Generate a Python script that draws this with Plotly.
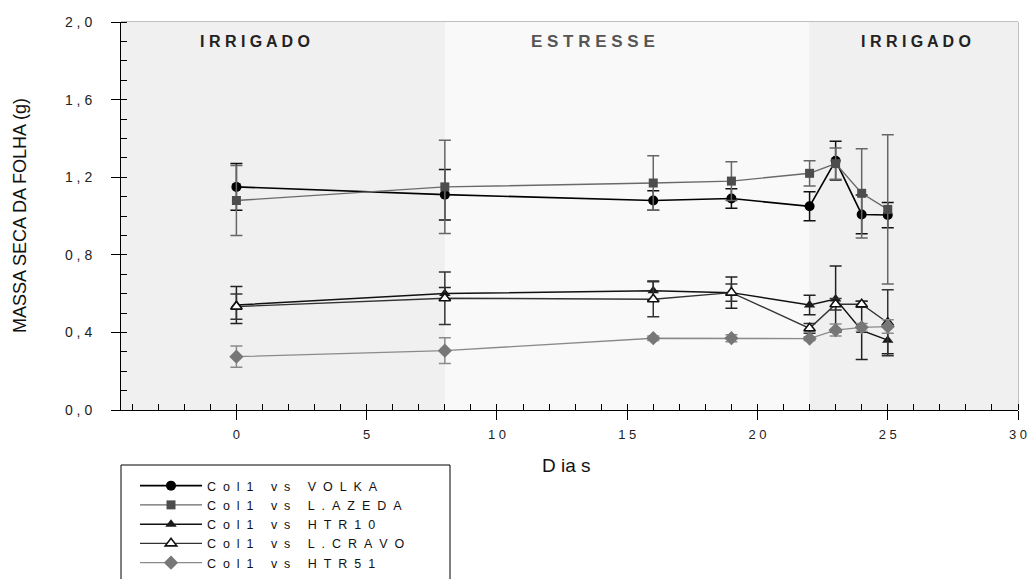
import plotly.graph_objects as go

# ---- data ----
days = [0, 8, 16, 19, 22, 23, 24, 25]

volka = [1.15, 1.11, 1.08, 1.09, 1.05, 1.285, 1.008, 1.005]
volka_err = [0.12, 0.13, 0.05, 0.05, 0.075, 0.10, 0.10, 0.065]

azeda = [1.08, 1.15, 1.17, 1.18, 1.22, 1.27, 1.117, 1.034]
azeda_err = [0.18, 0.24, 0.14, 0.10, 0.065, 0.08, 0.23, 0.385]

htr10 = [0.541, 0.60, 0.615, 0.605, 0.541, 0.572, 0.41, 0.36]
htr10_err = [0.095, 0.032, 0.05, 0.08, 0.05, 0.17, 0.15, 0.07]

cravo = [0.533, 0.576, 0.571, 0.605, 0.421, 0.545, 0.545, 0.45]
cravo_err = [0.065, 0.135, 0.09, 0.045, 0.025, 0.03, 0.015, 0.17]

htr51 = [0.275, 0.306, 0.37, 0.37, 0.368, 0.412, 0.426, 0.43]
htr51_err = [0.055, 0.066, 0.012, 0.018, 0.01, 0.031, 0.02, 0.035]

NB = "\u00a0"
def spaced(word_list):
    return (NB * 5).join((NB * 2).join(w) for w in word_list)

series_names = [
    spaced(["Col1", "vs", "VOLKA"]),
    spaced(["Col1", "vs", "L.AZEDA"]),
    spaced(["Col1", "vs", "HTR10"]),
    spaced(["Col1", "vs", "L.CRAVO"]),
    spaced(["Col1", "vs", "HTR51"]),
]

x_tickvals = [0, 5, 10, 15, 20, 25, 30]
x_ticktext = ["0", "5", "1 0", "1 5", "2 0", "2 5", "3 0"]
y_tickvals = [0.0, 0.4, 0.8, 1.2, 1.6, 2.0]
y_ticktext = ["0 , 0", "0 , 4", "0 , 8", "1 , 2", "1 , 6", "2 , 0"]

phases = [(-4.43, 8, "#f0f0f0"), (8, 22, "#f9f9f9"), (22, 30, "#f0f0f0")]
phase_labels = [(0.73, "I R R I G A D O", "#222222", 16),
                (13.7, "E S T R E S S E", "#555555", 17),
                (26.1, "I R R I G A D O", "#222222", 16)]

FONT = "Liberation Sans, Arial, sans-serif"

L, R, T, B = 121, 1018, 22, 410
W, H = 1029, 579


def px(x):
    return (x - L) / float(R - L)


def py(y):
    return (B - y) / float(B - T)


styles = [
    dict(line=dict(color="#000000", width=1.6),
         marker=dict(symbol="circle", size=10, color="#000000"),
         err="#111111"),
    dict(line=dict(color="#6a6a6a", width=1.4),
         marker=dict(symbol="square", size=9, color="#4d4d4d"),
         err="#666666"),
    dict(line=dict(color="#111111", width=1.5),
         marker=dict(symbol="triangle-up", size=10, color="#1a1a1a"),
         err="#222222"),
    dict(line=dict(color="#333333", width=1.4),
         marker=dict(symbol="triangle-up", size=10, color="#ffffff",
                     line=dict(color="#111111", width=1.6)),
         err="#333333"),
    dict(line=dict(color="#8a8a8a", width=1.4),
         marker=dict(symbol="diamond", size=11, color="#777777"),
         err="#8a8a8a"),
]

values = [volka, azeda, htr10, cravo, htr51]
errors = [volka_err, azeda_err, htr10_err, cravo_err, htr51_err]

fig = go.Figure()
for name, vals, errs, st in zip(series_names, values, errors, styles):
    fig.add_trace(go.Scatter(
        x=days, y=vals, name=name, mode="lines+markers",
        line=st["line"], marker=st["marker"],
        error_y=dict(type="data", array=errs, visible=True,
                     color=st["err"], thickness=1.5, width=6),
    ))

shapes = []
for x0, x1, c in phases:
    shapes.append(dict(type="rect", xref="x", yref="y", x0=x0, x1=x1,
                       y0=0, y1=2.0, fillcolor=c, line=dict(width=0),
                       layer="below"))
shapes.append(dict(type="rect", xref="paper", yref="paper", x0=0, x1=1,
                   y0=0, y1=1, line=dict(color="#808080", width=1),
                   layer="below"))
shapes.append(dict(type="rect", xref="paper", yref="paper",
                   x0=px(121), x1=px(450), y0=py(465), y1=py(650),
                   line=dict(color="#000000", width=1)))

annotations = []
for xc, txt, col, fs in phase_labels:
    annotations.append(dict(x=xc, y=1.902, xref="x", yref="y", text="<b>" + txt + "</b>",
                            xanchor="center", yanchor="middle",
                            showarrow=False, font=dict(family=FONT, size=fs, color=col)))
annotations.append(dict(x=px(20), y=py(216), xref="paper", yref="paper",
                        xanchor="center", yanchor="middle",
                        text="MASSA SECA DA FOLHA (g)", textangle=-90, showarrow=False,
                        font=dict(family=FONT, size=18, color="#111111")))
annotations.append(dict(x=px(566), y=py(465), xref="paper", yref="paper",
                        xanchor="center", yanchor="middle",
                        text="D ia s", showarrow=False,
                        font=dict(family=FONT, size=19, color="#111111")))

fig.update_layout(
    width=W, height=H, autosize=False,
    margin=dict(l=L, r=W - R, t=T, b=H - B, autoexpand=False),
    paper_bgcolor="white", plot_bgcolor="#f0f0f0",
    font=dict(family=FONT, size=13, color="#222222"),
    shapes=shapes, annotations=annotations,
    showlegend=True,
    legend=dict(x=px(135), y=py(471), xanchor="left", yanchor="top",
                bgcolor="rgba(0,0,0,0)", borderwidth=0, itemwidth=62,
                font=dict(family=FONT, size=12.5, color="#111111"),
                tracegroupgap=0),
    xaxis=dict(range=[-4.43, 30], tickmode="array", tickvals=x_tickvals, ticktext=x_ticktext,
               ticks="outside", ticklen=9, tickcolor="#000000", showline=True,
               linecolor="#000000", linewidth=1, showgrid=False, zeroline=False,
               ticklabelstandoff=3, tickfont=dict(size=13),
               minor=dict(ticks="inside", ticklen=6, dtick=1, tick0=0,
                          tickcolor="#000000", showgrid=False)),
    yaxis=dict(range=[0, 2.0], tickmode="array", tickvals=y_tickvals, ticktext=y_ticktext,
               ticks="outside", ticklen=9, tickcolor="#000000", showline=True,
               linecolor="#000000", linewidth=1, showgrid=False, zeroline=False,
               ticklabelstandoff=16, tickfont=dict(size=14),
               minor=dict(ticks="inside", ticklen=6, dtick=0.1, tick0=0,
                          tickcolor="#000000", showgrid=False)),
)

fig.write_html("out.html", config={"displayModeBar": False},
               post_script="document.body.style.margin='0';document.body.style.overflow='hidden';")
